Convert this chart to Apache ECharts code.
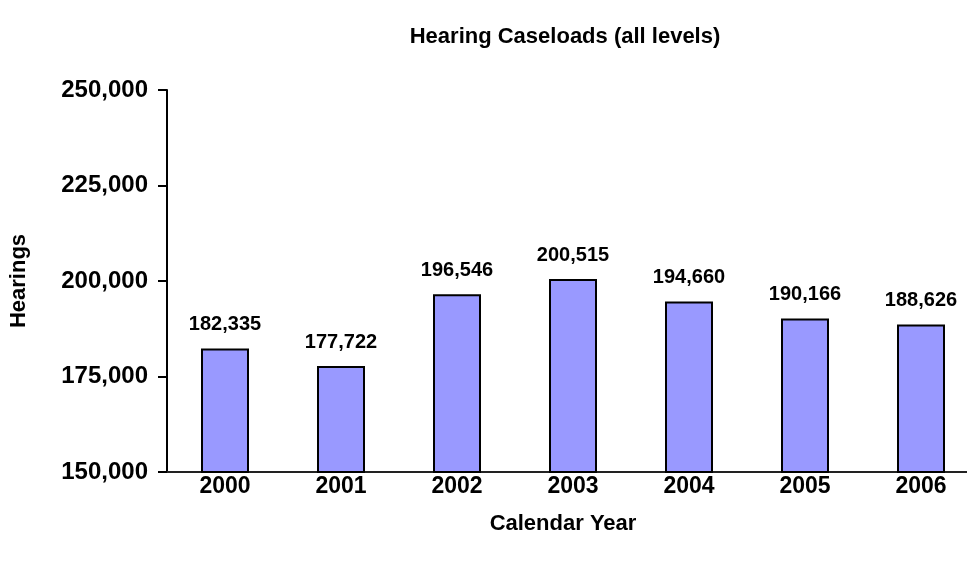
<!DOCTYPE html>
<html><head><meta charset="utf-8">
<script src="https://cdn.jsdelivr.net/npm/echarts@6/dist/echarts.min.js"></script>
<style>html,body{margin:0;padding:0;background:#fff}#c{width:967px;height:567px}</style>
</head><body><div id="c"></div>
<script>
const years = ['2000','2001','2002','2003','2004','2005','2006'];
const hearings = [182335, 177722, 196546, 200515, 194660, 190166, 188626];
const yTicks = [150000, 250000, 25000];

const chart = echarts.init(document.getElementById('c'), null, {renderer:'canvas'});
const F = 'Liberation Sans, Arial, sans-serif';
chart.setOption({
  backgroundColor:'#fff',
  animation:false,
  title:{text:'Hearing Caseloads (all levels)', left:560, top:21, textAlign:'center',
    textStyle:{fontFamily:F, fontWeight:'bold', fontSize:22, color:'#000'}},
  grid:{left:167, right:-12, top:90, bottom:95, containLabel:false, outerBoundsMode:'none'},
  xAxis:{type:'category', data:years,
    axisLine:{lineStyle:{color:'#222', width:2}},
    axisTick:{show:false},
    axisLabel:{fontFamily:F, fontWeight:'bold', fontSize:23, color:'#000', margin:3},
    name:'Calendar Year', nameLocation:'middle', nameGap:41,
    nameTextStyle:{fontFamily:F, fontWeight:'bold', fontSize:22, color:'#000', padding:[0,0,0,-20]}
  },
  yAxis:{type:'value', min:yTicks[0], max:yTicks[1], interval:yTicks[2],
    axisLine:{show:true, lineStyle:{color:'#000', width:2}},
    axisTick:{show:true, inside:false, length:9, lineStyle:{color:'#000', width:2}},
    splitLine:{show:false},
    axisLabel:{fontFamily:F, fontWeight:'bold', fontSize:24, color:'#000', margin:19,
      formatter:v=>v.toLocaleString('en-US')},
    name:'Hearings', nameLocation:'middle', nameGap:137,
    nameTextStyle:{fontFamily:F, fontWeight:'bold', fontSize:22, color:'#000'}
  },
  series:[{type:'bar', data:hearings, barWidth:48,
    itemStyle:{color:'#9999FF', borderColor:'#000', borderWidth:2},
    label:{show:true, position:'top', distance:14, fontFamily:F, fontWeight:'bold', fontSize:20, color:'#000',
      formatter:p=>p.value.toLocaleString('en-US')}
  }]
});
</script></body></html>
